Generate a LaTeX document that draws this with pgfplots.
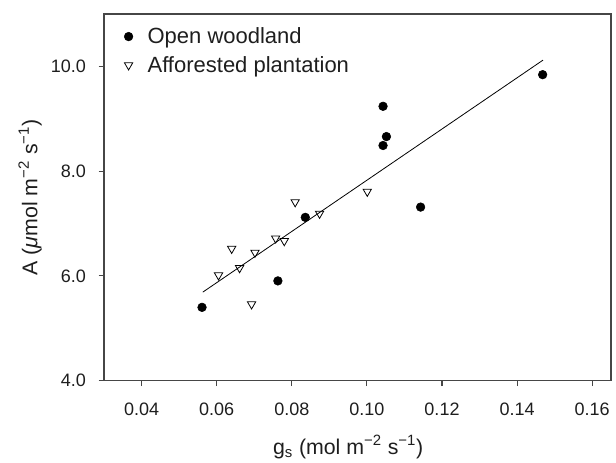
\documentclass[border=0pt]{standalone}
\usepackage{fontspec}
\setmainfont{Liberation Sans}
\usepackage{pgfplots}
\pgfplotsset{compat=1.18}
\definecolor{axgray}{RGB}{70,70,70}
\definecolor{txt}{RGB}{30,30,30}
\begin{document}
\begin{tikzpicture}
\useasboundingbox (-78pt,-61pt) rectangle (384pt,285.5pt);
\begin{axis}[
  at={(0,0)}, anchor=south west,
  scale only axis, width=380.25pt, height=275pt,
  xmin=0.03, xmax=0.165, ymin=4, ymax=11,
  xtick={0.04,0.06,0.08,0.10,0.12,0.14,0.16},
  ytick={4,6,8,10},
  scaled x ticks=false, scaled y ticks=false,
  xticklabel style={/pgf/number format/.cd, fixed, fixed zerofill, precision=2},
  yticklabel style={/pgf/number format/.cd, fixed, fixed zerofill, precision=1},
  /pgf/number format/assume math mode=true,
  tick label style={font=\fontsize{13.5}{15}\selectfont, text=txt},
  tick align=outside, tick pos=left, major tick length=4pt,
  axis line style={axgray, line width=0.8pt},
  every tick/.style={axgray, line width=0.8pt},
  xticklabel shift=9pt, yticklabel shift=6pt,
  xlabel={g\textsubscript{s} (mol m\textsuperscript{−2} s\textsuperscript{−1})},
  ylabel={A (\textit{μ}mol m\textsuperscript{−2} s\textsuperscript{−1})},
  label style={font=\fontsize{16}{19}\selectfont, text=txt},
  xlabel style={yshift=-8pt, xshift=-7pt},
  ylabel style={yshift=0pt},
  legend style={draw=none, fill=none, at={(0,1)}, anchor=north west,
    xshift=12pt, yshift=-6pt, font=\fontsize{16.5}{19}\selectfont, text=txt,
    row sep=4pt, /tikz/every odd column/.append style={column sep=9pt}},
  legend cell align=left,
  clip=false,
]
\addplot[only marks, mark=*, mark size=3.25pt, black] coordinates {
(0.0561,5.40) (0.0763,5.905) (0.0836,7.118) (0.1043,9.238)
(0.1052,8.66) (0.1043,8.49) (0.1143,7.314) (0.1468,9.842)
};
\addlegendentry{Open woodland}
\addplot[only marks, mark=triangle, mark size=3.6pt, mark options={rotate=180, fill=white, line width=0.6pt}, black] coordinates {
(0.0605,6.013) (0.0640,6.52) (0.0661,6.152) (0.0702,6.446)
(0.0693,5.46) (0.0757,6.718) (0.0780,6.667) (0.0809,7.41)
(0.0874,7.19) (0.1001,7.61)
};
\addlegendentry{Afforested plantation}
\addplot[black, line width=0.6pt, forget plot] coordinates {(0.0563,5.69) (0.1469,10.12)};
\end{axis}
\end{tikzpicture}
\end{document}
